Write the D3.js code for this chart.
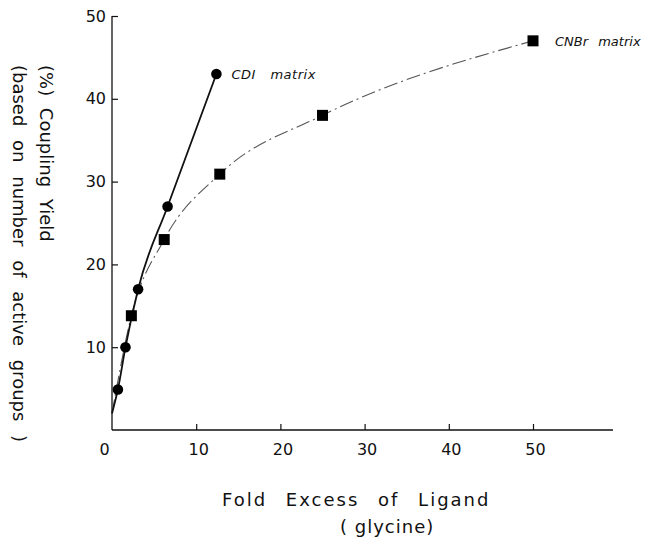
<!DOCTYPE html>
<html>
<head>
<meta charset="utf-8">
<script src="https://cdn.jsdelivr.net/npm/d3@7"></script>
<style>
  html, body { margin: 0; padding: 0; background: #fff; }
  svg { display: block; }
  text { font-family: "DejaVu Sans", sans-serif; fill: #111; }
</style>
</head>
<body>
<script>
// ---- data ----
const xTicks = [0, 10, 20, 30, 40, 50];
const yTicks = [0, 10, 20, 30, 40, 50];
const originPoint = [0, 2];
const cdiX = [0.7, 1.6, 3.1, 6.6, 12.4];
const cdiY = [4.9, 10, 17, 27, 43];
const cnbrX = [2.3, 6.2, 12.8, 25, 50];
const cnbrY = [13.8, 23, 30.9, 38, 47];
const seriesNames = ["CDI matrix", "CNBr matrix"];
const xTitle = ["Fold Excess of Ligand", "( glycine)"];
const yTitle = ["(%) Coupling Yield", "(based on number of active groups )"];

const W = 647, H = 541;
const svg = d3.select("body").append("svg").attr("width", W).attr("height", H);

const x = d3.scaleLinear().domain([0, 50]).range([112, 533]);
const y = d3.scaleLinear().domain([0, 50]).range([430, 16]);
const xMax = 59.5;

// axes
const gx = svg.append("g").attr("transform", `translate(0,${y(0)})`)
  .call(d3.axisBottom(x).tickValues(xTicks).tickSize(-6).tickPadding(14).tickFormat(d3.format("d")));
gx.select(".domain").attr("d", `M${x(0)},0H${x(xMax)}`).attr("stroke", "#111").attr("stroke-width", 1.3);
gx.selectAll(".tick line").attr("stroke", "#111").attr("stroke-width", 1.2)
  .filter(d => d === 0).remove();
gx.selectAll(".tick text").attr("font-size", 16).attr("font-family", "DejaVu Sans").attr("fill", "#111")
  .attr("dx", d => d === 0 ? -8 : 2);

const gy = svg.append("g").attr("transform", `translate(${x(0)},0)`)
  .call(d3.axisLeft(y).tickValues(yTicks).tickSize(-6).tickPadding(6).tickFormat(d3.format("d")));
gy.select(".domain").attr("d", `M0,${y(0)}V${y(50)}`).attr("stroke", "#111").attr("stroke-width", 1.3);
gy.selectAll(".tick line").attr("stroke", "#111").attr("stroke-width", 1.2)
  .filter(d => d === 0).remove();
gy.selectAll(".tick text").attr("font-size", 16).attr("font-family", "DejaVu Sans").attr("fill", "#111")
  .filter(d => d === 0).remove();

// lines
const cdiPts = [originPoint].concat(cdiX.map((v, i) => [v, cdiY[i]]));
const cnbrPts = [originPoint].concat(cnbrX.map((v, i) => [v, cnbrY[i]]));
const line = d3.line().x(d => x(d[0])).y(d => y(d[1])).curve(d3.curveMonotoneX);

svg.append("path").attr("d", line(cnbrPts)).attr("fill", "none")
  .attr("stroke", "#555").attr("stroke-width", 1.1).attr("stroke-dasharray", "14,4,2,4");
svg.append("path").attr("d", line(cdiPts)).attr("fill", "none")
  .attr("stroke", "#111").attr("stroke-width", 1.8);

// markers
svg.selectAll("circle.cdi").data(cdiX).join("circle").attr("class", "cdi")
  .attr("cx", d => x(d)).attr("cy", (d, i) => y(cdiY[i])).attr("r", 5.3).attr("fill", "#000");
svg.selectAll("rect.cnbr").data(cnbrX).join("rect").attr("class", "cnbr")
  .attr("x", d => x(d) - 5.5).attr("y", (d, i) => y(cnbrY[i]) - 5.5)
  .attr("width", 11).attr("height", 11).attr("fill", "#000");

// series labels
svg.append("text").attr("x", x(cdiX[4]) + 15).attr("y", y(cdiY[4]) + 5)
  .attr("font-size", 13).attr("font-style", "italic").attr("fill", "#666")
  .style("word-spacing", "10px").style("letter-spacing", "0.5px").text(seriesNames[0]);
svg.append("text").attr("x", x(cnbrX[4]) + 22).attr("y", y(cnbrY[4]) + 5)
  .attr("font-size", 13).attr("font-style", "italic").attr("fill", "#666")
  .style("word-spacing", "6px").text(seriesNames[1]);

// axis titles
svg.append("text").attr("x", 222).attr("y", 506).attr("font-size", 18)
  .style("letter-spacing", "2px").style("word-spacing", "11px").text(xTitle[0]);
svg.append("text").attr("x", 340).attr("y", 533).attr("font-size", 18)
  .style("letter-spacing", "1px").text(xTitle[1]);

svg.append("text").attr("transform", "translate(40,65) rotate(90)").attr("font-size", 18)
  .style("word-spacing", "6px").text(yTitle[0]);
svg.append("text").attr("transform", "translate(13,65) rotate(90)").attr("font-size", 18)
  .style("word-spacing", "8px").text(yTitle[1]);
</script>
</body>
</html>
